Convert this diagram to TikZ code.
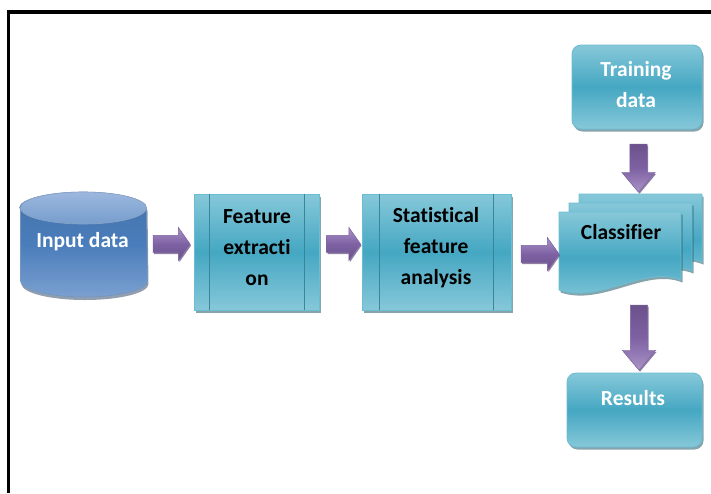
\documentclass[tikz,border=0pt]{standalone}
\usepackage{fontspec}
\setmainfont{Carlito}[Ligatures=NoCommon]
\usetikzlibrary{shapes.arrows,shadows,calc}
\definecolor{tealL}{HTML}{8ECCDC}
\definecolor{tealM}{HTML}{45A7C2}
\definecolor{tealB}{HTML}{6BBDD1}
\definecolor{tealS}{HTML}{215968}
\definecolor{blueL}{HTML}{9BB7DE}
\definecolor{blueM}{HTML}{4A7DBB}
\definecolor{blueD}{HTML}{3A68A0}
\definecolor{purL}{HTML}{A993C6}
\definecolor{purM}{HTML}{7E61A3}
\definecolor{purD}{HTML}{5F497A}
\pgfdeclareverticalshading{tealsh}{100bp}{color(0bp)=(tealL); color(22bp)=(tealL); color(50bp)=(tealM); color(78bp)=(tealL); color(100bp)=(tealL)}
\tikzset{
  tshadow/.style={drop shadow={shadow xshift=1.5pt,shadow yshift=-2.5pt,fill=tealS,opacity=0.55}},
  tealfill/.style={shading=tealsh,draw=tealB,line width=0.8pt},
  procbox/.style={rectangle,tealfill,tshadow},
  roundbox/.style={rectangle,rounded corners=9pt,tealfill,tshadow},
  btext/.style={align=center,font=\txtfont,text=black},
  wtext/.style={align=center,font=\txtfont,text=white},
  innerline/.style={draw=tealM!80!black,line width=0.7pt},
  barrow/.style={single arrow,single arrow head extend=8pt,inner xsep=0pt,inner ysep=8.5pt,
     draw=purM,line width=0.4pt,drop shadow={shadow xshift=1pt,shadow yshift=-1.5pt,fill=purD,opacity=0.7}},
  harrow/.style={barrow,single arrow tip angle=110,top color=purL,bottom color=purM!85!black,middle color=purM},
  varrow/.style={barrow,rotate=-90,single arrow tip angle=80,top color=purM!85!black,bottom color=purL,middle color=purM},
  doc/.style={tealfill,tshadow},
}
\newcommand{\txtfont}{\fontsize{21.5}{31}\selectfont\bfseries}
\begin{document}
\begin{tikzpicture}[x=1pt,y=-1pt]
\useasboundingbox (0,0) rectangle (711,493);
% frame
\draw[line width=3.5pt] (8.5,493) -- (8.5,12) -- (711,12);

% cylinder
\path[top color=blueM!92!black,bottom color=blueL!60!blueM,middle color=blueM,draw=blueD!70!white,line width=0.6pt,
      drop shadow={shadow xshift=1pt,shadow yshift=-3pt,fill=blueD!60!black,opacity=0.5}]
  (20.5,208) -- (20.5,281) arc[start angle=180,end angle=360,x radius=63.5pt,y radius=16pt]
  -- (146.5,208) arc[start angle=0,end angle=180,x radius=63.5pt,y radius=16pt] -- cycle;
\path[top color=blueL,bottom color=blueM!75!white,draw=blueD!60!white,line width=0.6pt]
  (83.5,208) ellipse[x radius=63pt,y radius=16pt];
\node[wtext] (in) at (82.5,242) {Input data};

% process boxes
\node[procbox,minimum width=125pt,minimum height=116pt] (fe) at (256.5,252) {};
\draw[innerline] ($(fe.north west)+(16,0)$) -- ($(fe.south west)+(16,0)$);
\draw[innerline] ($(fe.north east)+(-15,0)$) -- ($(fe.south east)+(-15,0)$);
\node[btext] (fet) at (257,248) {Feature\\extracti\\on};
\node[procbox,minimum width=149pt,minimum height=116pt] (sf) at (436.5,252) {};
\draw[innerline] ($(sf.north west)+(18,0)$) -- ($(sf.south west)+(18,0)$);
\draw[innerline] ($(sf.north east)+(-18,0)$) -- ($(sf.south east)+(-18,0)$);
\node[btext] (sft) at (436,248) {Statistical\\feature\\analysis};

% classifier (multi-document)
\path[doc] (579,194) -- (702,194) -- (702,262) .. controls (665,247) and (622,286) .. (579,272) -- cycle;
\path[doc] (569,203) -- (692,203) -- (692,271) .. controls (655,256) and (612,295) .. (569,281) -- cycle;
\path[doc] (559,212) -- (681,212) -- (681,280) .. controls (644,265) and (601,304) .. (559,290) -- cycle;
\node[btext] (cl) at (621,232) {Classifier};

% rounded boxes
\node[roundbox,minimum width=130pt,minimum height=84pt] (tr) at (637,87) {};
\node[wtext] (trt) at (636,85) {Training\\data};
\node[roundbox,minimum width=135pt,minimum height=74pt] (rs) at (634.5,410) {};
\node[wtext] (rst) at (633,398) {Results};

% block arrows
\node[harrow,minimum height=37pt] (a1) at (168.5,244) {};
\node[harrow,minimum height=34pt] (a2) at (340.5,244) {};
\node[harrow,minimum height=38pt] (a3) at (537,254) {};
\node[varrow,minimum height=48pt] (a4) at (638.5,163) {};
\node[varrow,minimum height=65pt] (a5) at (639,332.5) {};
\end{tikzpicture}
\end{document}
